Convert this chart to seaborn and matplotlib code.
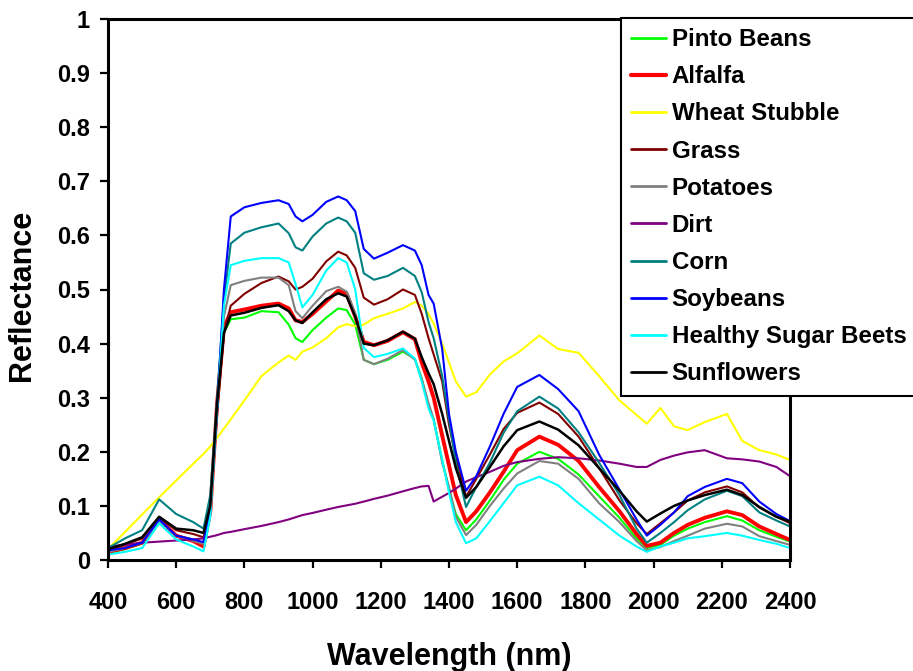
# %%
import matplotlib
matplotlib.use("Agg")
import matplotlib.pyplot as plt
import seaborn as sns

# %%
# wavelengths (nm) where the curves were read off
wavelength = [400, 450, 500, 550, 600, 650, 680, 700, 720, 740,
              760, 800, 850, 900, 930, 950, 970, 1000, 1040, 1075,
              1100, 1125, 1150, 1180, 1220, 1265, 1300, 1320, 1340, 1355,
              1380, 1400, 1420, 1450, 1480, 1520, 1560, 1600, 1665, 1720,
              1780, 1840, 1900, 1950, 1980, 2020, 2060, 2100, 2150, 2215,
              2260, 2310, 2360, 2400]

pinto_beans = [0.012, 0.020, 0.030, 0.073, 0.045, 0.038, 0.030, 0.090, 0.280, 0.420,
               0.445, 0.448, 0.460, 0.458, 0.435, 0.410, 0.403, 0.425, 0.448, 0.465,
               0.462, 0.435, 0.370, 0.362, 0.370, 0.385, 0.372, 0.335, 0.285, 0.260,
               0.185, 0.130, 0.085, 0.055, 0.075, 0.110, 0.148, 0.178, 0.200, 0.187,
               0.158, 0.118, 0.078, 0.040, 0.022, 0.028, 0.045, 0.058, 0.070, 0.081,
               0.073, 0.055, 0.043, 0.034]

alfalfa = [0.015, 0.022, 0.032, 0.075, 0.045, 0.035, 0.025, 0.090, 0.290, 0.430,
           0.458, 0.463, 0.470, 0.474, 0.465, 0.443, 0.440, 0.455, 0.478, 0.498,
           0.492, 0.450, 0.403, 0.397, 0.405, 0.421, 0.408, 0.365, 0.330, 0.300,
           0.230, 0.175, 0.120, 0.070, 0.090, 0.125, 0.163, 0.203, 0.228, 0.213,
           0.183, 0.135, 0.090, 0.048, 0.026, 0.032, 0.050, 0.065, 0.078, 0.090,
           0.083, 0.062, 0.048, 0.037]

wheat_stubble = [0.020, 0.052, 0.084, 0.116, 0.147, 0.178, 0.196, 0.210, 0.226, 0.243,
                 0.260, 0.295, 0.340, 0.365, 0.378, 0.370, 0.385, 0.393, 0.410, 0.430,
                 0.436, 0.432, 0.435, 0.447, 0.455, 0.465, 0.477, 0.470, 0.455, 0.437,
                 0.400, 0.365, 0.330, 0.302, 0.310, 0.343, 0.367, 0.382, 0.415, 0.390,
                 0.383, 0.340, 0.295, 0.268, 0.252, 0.281, 0.247, 0.240, 0.255, 0.270,
                 0.220, 0.203, 0.195, 0.185]

grass = [0.018, 0.028, 0.040, 0.078, 0.055, 0.048, 0.042, 0.090, 0.270, 0.420,
         0.470, 0.492, 0.512, 0.524, 0.515, 0.500, 0.505, 0.520, 0.552, 0.570,
         0.563, 0.540, 0.485, 0.472, 0.482, 0.500, 0.490, 0.455, 0.410, 0.380,
         0.330, 0.250, 0.190, 0.117, 0.150, 0.195, 0.242, 0.272, 0.291, 0.270,
         0.228, 0.170, 0.110, 0.068, 0.048, 0.068, 0.088, 0.110, 0.125, 0.136,
         0.125, 0.097, 0.080, 0.068]

potatoes = [0.015, 0.022, 0.032, 0.072, 0.045, 0.035, 0.030, 0.090, 0.280, 0.450,
            0.508, 0.516, 0.522, 0.522, 0.508, 0.460, 0.447, 0.470, 0.497, 0.505,
            0.496, 0.456, 0.370, 0.362, 0.372, 0.388, 0.370, 0.335, 0.290, 0.260,
            0.180, 0.135, 0.080, 0.046, 0.065, 0.100, 0.132, 0.160, 0.183, 0.178,
            0.150, 0.105, 0.070, 0.035, 0.018, 0.024, 0.035, 0.045, 0.058, 0.067,
            0.062, 0.044, 0.035, 0.028]

dirt = [0.025, 0.028, 0.032, 0.034, 0.036, 0.038, 0.040, 0.043, 0.046, 0.050,
        0.052, 0.057, 0.063, 0.070, 0.075, 0.079, 0.083, 0.087, 0.093, 0.098,
        0.101, 0.104, 0.108, 0.113, 0.119, 0.127, 0.133, 0.136, 0.137, 0.108,
        0.117, 0.124, 0.132, 0.145, 0.153, 0.163, 0.174, 0.181, 0.187, 0.190,
        0.188, 0.184, 0.178, 0.172, 0.172, 0.185, 0.193, 0.199, 0.203, 0.188,
        0.186, 0.182, 0.172, 0.155]

corn = [0.022, 0.040, 0.055, 0.112, 0.085, 0.070, 0.058, 0.120, 0.300, 0.480,
        0.585, 0.605, 0.615, 0.622, 0.604, 0.578, 0.572, 0.598, 0.622, 0.633,
        0.626, 0.605, 0.530, 0.518, 0.525, 0.540, 0.525, 0.495, 0.440, 0.410,
        0.340, 0.260, 0.180, 0.098, 0.135, 0.180, 0.235, 0.275, 0.302, 0.280,
        0.236, 0.180, 0.120, 0.058, 0.032, 0.050, 0.070, 0.092, 0.112, 0.128,
        0.118, 0.088, 0.073, 0.062]

soybeans = [0.018, 0.022, 0.032, 0.075, 0.045, 0.038, 0.033, 0.090, 0.280, 0.500,
            0.635, 0.652, 0.660, 0.665, 0.658, 0.635, 0.626, 0.638, 0.662, 0.672,
            0.665, 0.645, 0.575, 0.557, 0.568, 0.582, 0.572, 0.545, 0.490, 0.474,
            0.390, 0.270, 0.200, 0.128, 0.155, 0.210, 0.270, 0.320, 0.342, 0.316,
            0.275, 0.195, 0.130, 0.075, 0.045, 0.065, 0.088, 0.118, 0.135, 0.150,
            0.142, 0.108, 0.085, 0.072]

sugar_beets = [0.010, 0.015, 0.022, 0.068, 0.038, 0.025, 0.016, 0.080, 0.280, 0.470,
               0.545, 0.553, 0.558, 0.558, 0.550, 0.510, 0.467, 0.490, 0.535, 0.558,
               0.550, 0.500, 0.392, 0.375, 0.381, 0.391, 0.372, 0.330, 0.280, 0.258,
               0.185, 0.125, 0.070, 0.031, 0.040, 0.072, 0.105, 0.138, 0.154, 0.138,
               0.105, 0.075, 0.045, 0.025, 0.015, 0.025, 0.032, 0.040, 0.044, 0.050,
               0.045, 0.037, 0.030, 0.022]

sunflowers = [0.020, 0.030, 0.042, 0.080, 0.058, 0.055, 0.050, 0.100, 0.290, 0.420,
              0.452, 0.457, 0.466, 0.471, 0.460, 0.443, 0.438, 0.458, 0.482, 0.493,
              0.487, 0.450, 0.400, 0.397, 0.406, 0.422, 0.409, 0.375, 0.345, 0.325,
              0.270, 0.220, 0.170, 0.115, 0.135, 0.172, 0.210, 0.240, 0.256, 0.241,
              0.212, 0.170, 0.128, 0.090, 0.071, 0.086, 0.100, 0.110, 0.120, 0.130,
              0.120, 0.098, 0.080, 0.071]

labels = ["Pinto Beans", "Alfalfa", "Wheat Stubble", "Grass", "Potatoes",
          "Dirt", "Corn", "Soybeans", "Healthy Sugar Beets", "Sunflowers"]

x_ticks = [400, 600, 800, 1000, 1200, 1400, 1600, 1800, 2000, 2200, 2400]
y_ticks = [0, 0.1, 0.2, 0.3, 0.4, 0.5, 0.6, 0.7, 0.8, 0.9, 1]
y_tick_labels = ["0", "0.1", "0.2", "0.3", "0.4", "0.5", "0.6", "0.7", "0.8", "0.9", "1"]

# %%
sns.set_style("white")
plt.rcParams['font.family'] = ['Liberation Sans', 'DejaVu Sans']
plt.rcParams['font.weight'] = 'bold'
plt.rcParams['text.color'] = 'black'
plt.rcParams['axes.labelcolor'] = 'black'
plt.rcParams['xtick.color'] = 'black'
plt.rcParams['ytick.color'] = 'black'

fig = plt.figure(figsize=(9.13, 6.71), dpi=100)
ax = fig.add_axes([108 / 913, 111 / 671, 682 / 913, 541 / 671])

curves = [pinto_beans, alfalfa, wheat_stubble, grass, potatoes,
          dirt, corn, soybeans, sugar_beets, sunflowers]
colors = ["#00ff00", "#ff0000", "#ffff00", "#800000", "#808080",
          "#800080", "#008080", "#0000ff", "#00ffff", "#000000"]
widths = [1.5, 2.8, 1.5, 1.5, 1.5, 1.5, 1.5, 1.5, 1.5, 1.8]

for name, vals, col, lw in zip(labels, curves, colors, widths):
    sns.lineplot(x=wavelength, y=vals, color=col, linewidth=lw,
                 label=name, ax=ax)

ax.set_xlim(400, 2400)
ax.set_ylim(0, 1)
ax.set_xticks(x_ticks)
ax.set_yticks(y_ticks)
ax.set_yticklabels(y_tick_labels)

for side in ['top', 'left', 'bottom', 'right']:
    ax.spines[side].set_linewidth(2.2)
    ax.spines[side].set_color('black')

ax.tick_params(axis='x', direction='out', length=6, width=1.6, labelsize=17, pad=16, bottom=True)
ax.tick_params(axis='y', direction='out', length=6, width=1.6, labelsize=17, pad=7, left=True)

ax.set_xlabel("Wavelength (nm)", fontsize=22, fontweight='bold')
ax.set_ylabel("Reflectance", fontsize=22, fontweight='bold')
ax.xaxis.set_label_coords(0.5, -0.152)
ax.yaxis.set_label_coords(-0.104, 0.49)

leg = ax.legend(loc='upper left', bbox_to_anchor=(621 / 913, 1 - 18 / 671),
                bbox_transform=fig.transFigure, frameon=True, fancybox=False,
                edgecolor='black', framealpha=1,
                prop={'size': 17.4, 'weight': 'bold'},
                handlelength=1.45, handletextpad=0.22, labelspacing=0.585,
                borderpad=0.42, borderaxespad=0)
leg.get_frame().set_linewidth(1.5)
for line in leg.get_lines():
    line.set_linewidth(2.0)
leg.get_lines()[1].set_linewidth(3.0)

fig.savefig("out.png", dpi=100)
